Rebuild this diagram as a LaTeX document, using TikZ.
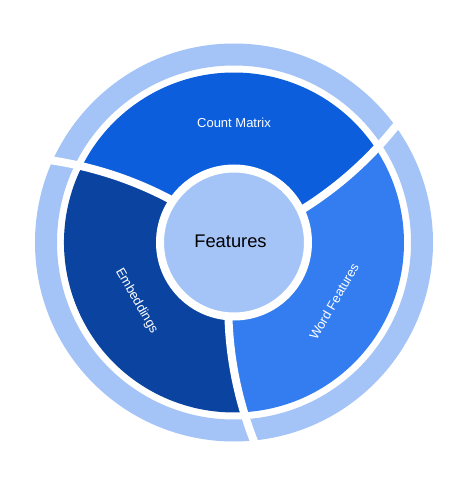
\documentclass[tikz,border=0pt]{standalone}
\usepackage{fontspec}
\setmainfont{Liberation Sans}
\usepackage{tikz}
\definecolor{ringblue}{RGB}{164,196,248}
\definecolor{countblue}{RGB}{12,94,221}
\definecolor{embedblue}{RGB}{11,68,160}
\definecolor{wordblue}{RGB}{51,125,241}
\tikzset{every node/.style={text=white, inner sep=0pt, font=\fontsize{13}{15}\selectfont}}
\newcommand{\twist}{0.08}

\begin{document}
\begin{tikzpicture}[x=1pt, y=1pt]
\useasboundingbox (-234,-242.5) rectangle (240,242.5);
\fill[ringblue, even odd rule] (0,0) circle (199) (0,0) circle (177);

% the three sectors, bounded by the twisted cuts
\fill[countblue] plot[domain=60:170, samples=30] ({26+\twist*(\x-78)}:\x)
  arc[start angle={26+\twist*92}, end angle={146+\twist*92}, radius=170]
  -- plot[domain=170:60, samples=30] ({146+\twist*(\x-78)}:\x) -- cycle;
\fill[embedblue] plot[domain=60:170, samples=30] ({146+\twist*(\x-78)}:\x)
  arc[start angle={146+\twist*92}, end angle={266+\twist*92}, radius=170]
  -- plot[domain=170:60, samples=30] ({266+\twist*(\x-78)}:\x) -- cycle;
\fill[wordblue] plot[domain=60:170, samples=30] ({266+\twist*(\x-78)}:\x)
  arc[start angle={266+\twist*92}, end angle={386+\twist*92}, radius=170]
  -- plot[domain=170:60, samples=30] ({386+\twist*(\x-78)}:\x) -- cycle;

\foreach \a in {26,146,266}
  \draw[white, line width=8] plot[domain=70:210, samples=30] ({\a+\twist*(\x-78)}:\x);

\node[circle, fill=ringblue, draw=white, line width=8, minimum size=148] (hub) at (0,0) {};
\node[text=black, font=\fontsize{18.3}{22}\selectfont] (hublabel) at (-3.5,1.5) {Features};

\node (countlabel) at (0,120) {Count Matrix};
\node[rotate=-60] (embedlabel) at (-97.5,-58.5) {Embeddings};
\node[rotate=60] (wordlabel) at (100,-59) {Word Features};
\end{tikzpicture}
\end{document}
